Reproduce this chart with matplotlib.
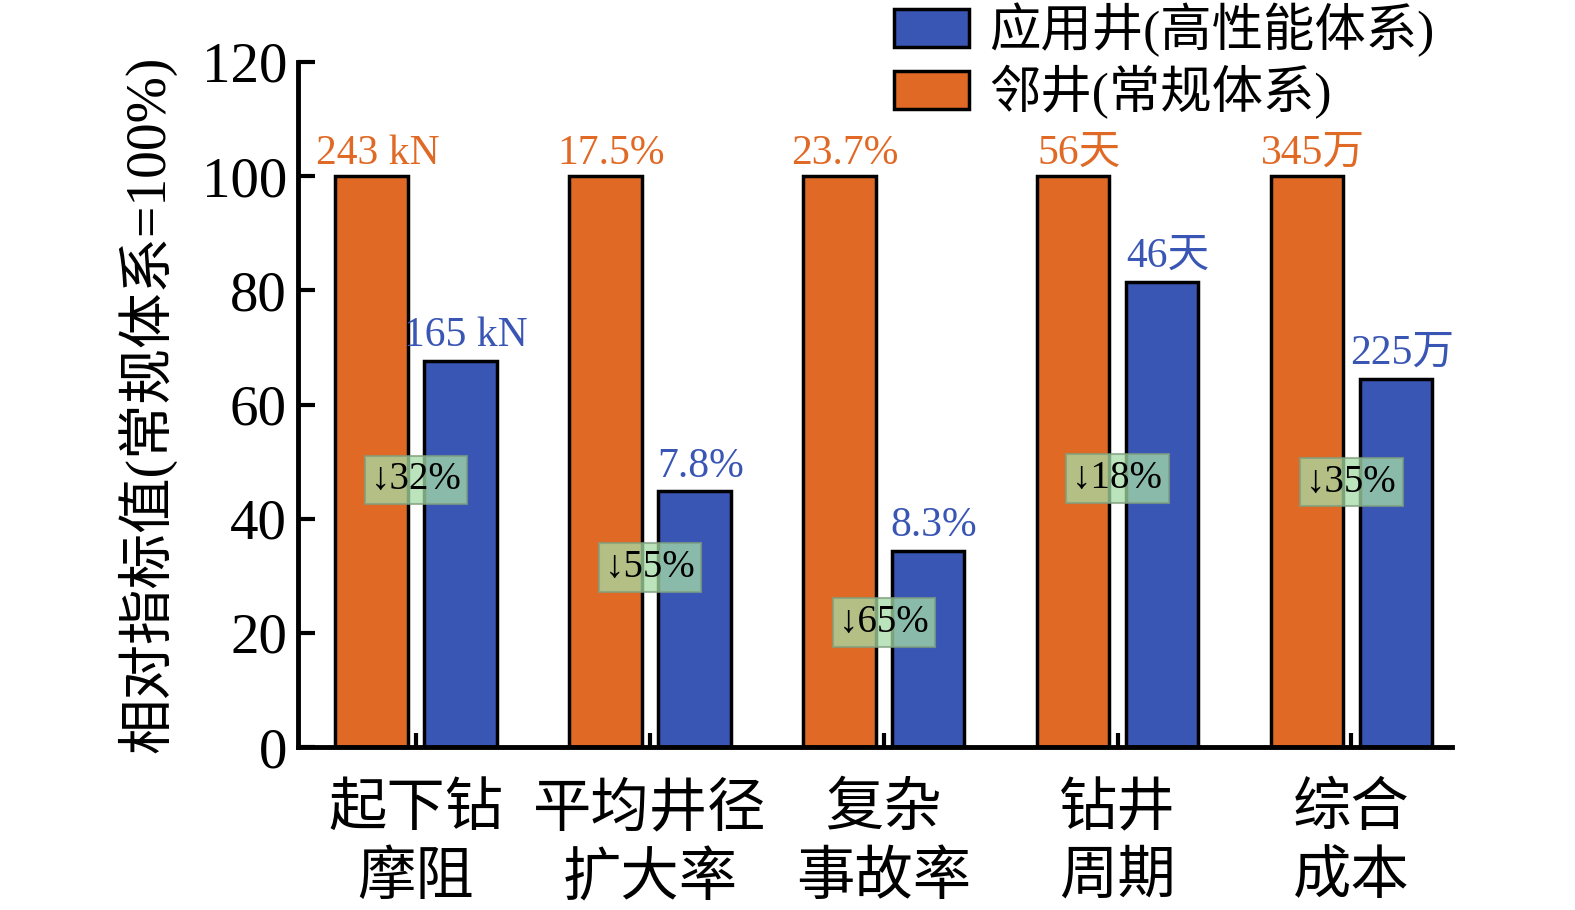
import matplotlib
matplotlib.use("Agg")
import matplotlib.pyplot as plt
import numpy as np

plt.rcParams['font.family'] = ['Liberation Serif', 'Noto Sans CJK SC', 'DejaVu Sans']

# data
categories = ['起下钻\n摩阻', '平均井径\n扩大率', '复杂\n事故率', '钻井\n周期', '综合\n成本']
neighbor = [100, 100, 100, 100, 100]          # 邻井(常规体系)
applied = [67.6, 44.8, 34.4, 81.5, 64.5]      # 应用井(高性能体系)
neighbor_labels = ['243 kN', '17.5%', '23.7%', '56天', '345万']
applied_labels = ['165 kN', '7.8%', '8.3%', '46天', '225万']
drops = ['↓32%', '↓55%', '↓65%', '↓18%', '↓35%']
drop_y = [46.8, 31.5, 21.8, 47.0, 46.4]

orange = '#E06A25'
blue = '#3A56B4'

fig = plt.figure(figsize=(15.75, 9.1), dpi=100)
ax = fig.add_axes([298/1575, 1-747/910, (1452-298)/1575, (747-62)/910])

x = np.arange(len(categories))
w = 0.31
off = 0.19
ax.bar(x - off, neighbor, w, color=orange, edgecolor='black', linewidth=2.5,
       label='邻井(常规体系)', zorder=2)
ax.bar(x + off, applied, w, color=blue, edgecolor='black', linewidth=2.5,
       label='应用井(高性能体系)', zorder=2)

for i in range(len(categories)):
    ax.text(x[i] - off + 0.025, neighbor[i] + 0.6, neighbor_labels[i], ha='center',
            va='bottom', fontsize=30, color=orange)
    ax.text(x[i] + off + 0.025, applied[i] + 1.0, applied_labels[i], ha='center',
            va='bottom', fontsize=30, color=blue)
    ax.text(x[i], drop_y[i], drops[i], ha='center', va='center', fontsize=28,
            color='black', zorder=4,
            bbox=dict(boxstyle='square,pad=0.15', facecolor='#a6dca6', alpha=0.75,
                      edgecolor='#7f9f7f', linewidth=1.5))

ax.set_xlim(-0.505, 4.43)
ax.set_ylim(0, 120)
ax.set_yticks(np.arange(0, 121, 20))
ax.set_xticks(x)
ax.set_xticklabels(categories, fontsize=42, linespacing=1.33)
ax.tick_params(axis='y', direction='in', length=12, width=3, labelsize=41, pad=8)
ax.tick_params(axis='x', direction='in', length=10, width=3, pad=26)
for s in ['top', 'right']:
    ax.spines[s].set_visible(False)
for s in ['left', 'bottom']:
    ax.spines[s].set_linewidth(3.5)

ax.set_ylabel('相对指标值(常规体系=100%)', fontsize=40, labelpad=18)

handles, labels = ax.get_legend_handles_labels()
fig.legend(handles[::-1], labels[::-1], loc='upper right',
           bbox_to_anchor=(1455/1575, 1.02), frameon=False, fontsize=37,
           handlelength=1.45, handleheight=0.75, handletextpad=0.4,
           labelspacing=0.15, borderaxespad=0.0)

fig.savefig('out.png', dpi=100, facecolor='white')
